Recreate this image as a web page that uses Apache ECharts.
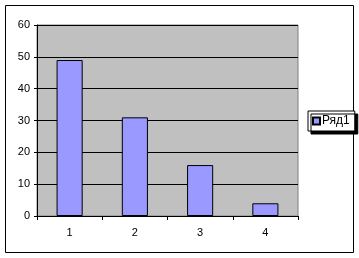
<!DOCTYPE html>
<html><head><meta charset="utf-8">
<script src="https://cdn.jsdelivr.net/npm/echarts@6/dist/echarts.min.js"></script>
<style>html,body{margin:0;padding:0;background:#fff}#c{width:359px;height:258px}</style>
</head><body><div id="c"></div>
<script>
const categories = ['1', '2', '3', '4'];
const values = [49, 31, 16, 4];
const yTicks = [0, 10, 20, 30, 40, 50, 60];
const seriesName = 'Ряд1';

const chart = echarts.init(document.getElementById('c'), null, {renderer: 'canvas'});
chart.setOption({
  animation: false,
  textStyle: {fontFamily: 'Liberation Sans, Arial, sans-serif'},
  graphic: [{
    type: 'rect', shape: {x: 5.5, y: 5.5, width: 348, height: 247},
    style: {fill: 'none', stroke: '#000', lineWidth: 1}, z: -10
  }],
  grid: {
    left: 37, top: 25, width: 261, height: 191,
    show: true, backgroundColor: '#c0c0c0', borderColor: '#808080', borderWidth: 1
  },
  legend: {
    orient: 'vertical', left: 308, top: 111,
    data: [seriesName],
    itemWidth: 7, itemHeight: 7, itemGap: 0,
    padding: [4, 5, 4, 4],
    backgroundColor: '#fff', borderColor: '#000', borderWidth: 1, borderRadius: 0,
    shadowColor: '#000', shadowBlur: 0, shadowOffsetX: 3, shadowOffsetY: 3,
    icon: 'rect',
    textStyle: {fontSize: 12, color: '#000', padding: [0, 0, 0, -3]}
  },
  xAxis: {
    type: 'category', data: categories,
    axisLine: {lineStyle: {color: '#000', width: 1}},
    axisTick: {show: true, length: 4, inside: false, lineStyle: {color: '#000'}},
    axisLabel: {fontSize: 11, color: '#000', margin: 11},
    splitLine: {show: false}
  },
  yAxis: {
    type: 'value', min: 0, max: 60, interval: 10,
    axisLine: {show: true, lineStyle: {color: '#000', width: 1}},
    axisTick: {show: true, length: 3, lineStyle: {color: '#000'}},
    axisLabel: {fontSize: 11, color: '#000', margin: 7,
      formatter: v => yTicks.includes(v) ? String(v) : ''},
    splitLine: {show: true, lineStyle: {color: '#000', width: 1}}
  },
  series: [{
    name: seriesName, type: 'bar', data: values,
    barWidth: '40%',
    itemStyle: {color: '#9999ff', borderColor: '#000', borderWidth: 1}
  }]
});
</script></body></html>
